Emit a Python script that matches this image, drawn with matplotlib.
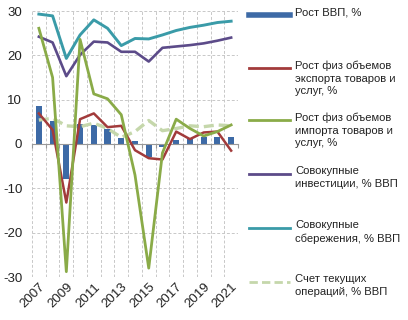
import matplotlib
matplotlib.use("Agg")
import matplotlib.pyplot as plt
from matplotlib.lines import Line2D
import numpy as np

plt.rcParams['font.family'] = ['Liberation Sans', 'DejaVu Sans']
plt.rcParams['axes.unicode_minus'] = False

years = list(range(2007, 2022))
gdp = [8.5, 5.2, -7.8, 4.5, 4.2, 3.4, 1.3, 0.6, -2.9, -0.6, 1.0, 1.4, 1.5, 1.5, 1.5]
exports = [6.9, 3.2, -13.2, 5.6, 6.9, 3.8, 4.1, -1.4, -3.2, -3.5, 2.8, 1.1, 2.6, 2.8, -1.5]
imports = [26.1, 15.0, -28.8, 23.6, 11.3, 10.2, 6.6, -7.0, -28.0, -2.0, 5.6, 3.5, 1.8, 2.8, 4.3]
investment = [24.2, 22.9, 15.3, 20.1, 23.1, 22.9, 20.8, 20.8, 18.6, 21.7, 22.0, 22.3, 22.7, 23.3, 24.0]
savings = [29.3, 28.9, 19.3, 24.6, 28.0, 26.1, 22.2, 23.8, 23.7, 24.6, 25.6, 26.3, 26.8, 27.4, 27.7]
current_acc = [5.4, 5.8, 4.1, 3.9, 4.7, 3.5, 1.5, 2.8, 5.3, 3.0, 3.5, 4.1, 3.9, 4.3, 4.1]

labels = ['Рост ВВП, %',
          'Рост физ объемов\nэкспорта товаров и\nуслуг, %',
          'Рост физ объемов\nимпорта товаров и\nуслуг, %',
          'Совокупные\nинвестиции, % ВВП',
          'Совокупные\nсбережения, % ВВП',
          'Счет текущих\nопераций, % ВВП']

c_bar = '#3d6aa6'
c_exp = '#a23b3b'
c_imp = '#8aab48'
c_inv = '#5c4b89'
c_sav = '#3a9ba8'
c_ca = '#c5d7ab'

fig = plt.figure(figsize=(4.08, 3.2), dpi=100)
ax = fig.add_axes([32/408, 1-277/320, 206/408, 266/320])

x = np.arange(len(years))
ax.bar(x, gdp, width=0.45, color=c_bar, zorder=2)
ax.plot(x, current_acc, color=c_ca, lw=2.4, ls=(0, (3, 1.5)), zorder=3)
ax.plot(x, exports, color=c_exp, lw=1.8, zorder=4)
ax.plot(x, imports, color=c_imp, lw=2.0, zorder=5)
ax.plot(x, investment, color=c_inv, lw=1.9, zorder=4)
ax.plot(x, savings, color=c_sav, lw=2.1, zorder=4)

ax.set_xlim(-0.5, len(years)-0.5)
ax.set_ylim(-30, 30)
ax.set_yticks([-30, -20, -10, 0, 10, 20, 30])
ax.tick_params(axis='y', length=0, labelsize=9.5, colors='#222222', pad=7)

# gridlines
for v in [-30, -20, -10, 10, 20, 30]:
    ax.axhline(v, color='#c8c8c8', lw=0.7, ls=(0, (3, 2)), zorder=0)
for b in np.arange(-0.5, len(years), 1.0):
    ax.axvline(b, color='#c8c8c8', lw=0.7, ls=(0, (3, 2)), zorder=0)

for s in ax.spines.values():
    s.set_visible(False)
ax.spines['bottom'].set_visible(True)
ax.spines['bottom'].set_position(('data', 0))
ax.spines['bottom'].set_color('#999999')
ax.spines['bottom'].set_linewidth(0.8)
ax.set_xticks(np.arange(-0.5, len(years), 1.0))
ax.set_xticklabels([])
ax.tick_params(axis='x', length=3, color='#999999', direction='out')

sec = ax.secondary_xaxis(0.0)
sec.set_xticks(x[::2])
sec.set_xticklabels([str(y) for y in years[::2]], rotation=45, ha='right',
                    rotation_mode='anchor', fontsize=9.5, color='#222222')
sec.tick_params(length=0, pad=3)
for s in sec.spines.values():
    s.set_visible(False)

# legend (manual)
W, H = 408, 320
entries = [
    (15, dict(color=c_bar, lw=4.0)),
    (68, dict(color=c_exp, lw=2.0)),
    (120, dict(color=c_imp, lw=2.0)),
    (174, dict(color=c_inv, lw=2.0)),
    (228, dict(color=c_sav, lw=2.0)),
    (282, dict(color=c_ca, lw=2.0, ls=(0, (3, 1.5)))),
]
for (yy, style), lab in zip(entries, labels):
    fig.add_artist(Line2D([249/W, 290/W], [1-yy/H, 1-yy/H], transform=fig.transFigure, **style))
    fig.text(295/W, 1-(yy-7.5)/H, lab, fontsize=8.1, va='top', ha='left',
             color='#222222', linespacing=1.33)

fig.savefig('out.png', dpi=100)
